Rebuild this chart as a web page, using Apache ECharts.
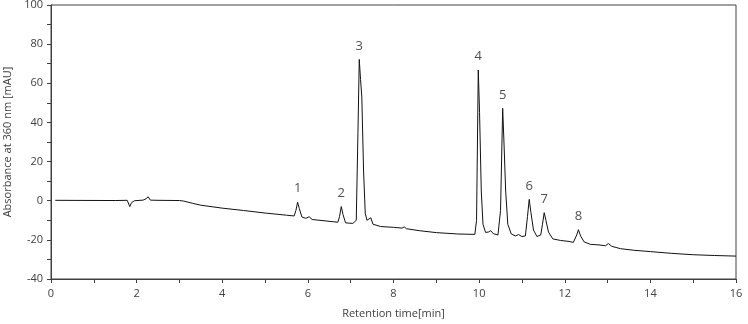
<!DOCTYPE html>
<html>
<head>
<meta charset="utf-8">
<script src="https://cdn.jsdelivr.net/npm/echarts@6/dist/echarts.min.js"></script>
<style>
  html, body { margin: 0; padding: 0; background: #fff; }
  #chart { width: 748px; height: 324px; }
</style>
</head>
<body>
<div id="chart"></div>
<script>
// chromatogram trace
const retentionTime = [
  0.1, 1.5, 1.78, 1.8, 1.84, 1.88, 1.95, 2.15, 2.22, 2.27, 2.32, 2.5, 3.0, 3.1, 3.3, 3.5,
  4.0, 4.5, 5.0, 5.5, 5.68, 5.72, 5.76, 5.8, 5.86, 5.95, 6.03, 6.1, 6.4, 6.7, 6.74, 6.78,
  6.82, 6.88, 7.05, 7.13, 7.17, 7.2, 7.23, 7.26, 7.3, 7.34, 7.38, 7.42, 7.47, 7.52, 7.7, 8.0,
  8.2, 8.25, 8.3, 8.6, 9.0, 9.5, 9.9, 9.94, 9.98, 10.01, 10.05, 10.09, 10.15, 10.22, 10.27, 10.33,
  10.44, 10.5, 10.55, 10.58, 10.62, 10.67, 10.75, 10.85, 10.92, 11.0, 11.08, 11.13, 11.17, 11.21, 11.27, 11.35,
  11.44, 11.48, 11.52, 11.56, 11.62, 11.72, 11.9, 12.1, 12.2, 12.28, 12.32, 12.37, 12.45, 12.6, 12.8, 12.95,
  13.02, 13.1, 13.3, 13.6, 14.0, 14.5, 15.0, 15.5, 16.0
]
const absorbance = [
  0.2, 0.1, 0.2, -0.3, -3.0, -1.0, 0.0, 0.3, 1.0, 2.0, 0.3, 0.2, 0.1, -0.2, -1.3, -2.3,
  -3.8, -5.0, -6.3, -7.4, -7.8, -5.0, -0.8, -4.0, -8.3, -9.0, -8.2, -9.6, -10.3, -11.0, -8.0, -3.0,
  -7.0, -11.3, -11.6, -10.0, 35, 72.2, 62, 53, 15.7, -6.4, -10.0, -10.2, -8.7, -12.0, -13.2, -13.6,
  -14.0, -13.4, -14.3, -15.3, -16.3, -17.0, -17.2, -10.0, 66.8, 45, 5, -12, -16.2, -16.0, -15.3, -16.8,
  -17.5, -5.0, 47.2, 30, 5, -12, -17.0, -18.0, -17.3, -18.3, -18.0, -8.0, 0.7, -6.0, -15.0, -18.3,
  -17.5, -12.0, -6.1, -10.0, -16.0, -19.5, -20.3, -20.8, -21.3, -17.5, -14.8, -18.0, -21.0, -22.3, -22.6, -23.0,
  -21.9, -23.3, -24.5, -25.3, -26.0, -26.9, -27.6, -28.0, -28.3
]

// peak numbers and where they sit
const peakNames = ['1', '2', '3', '4', '5', '6', '7', '8']
const peakTime = [5.76, 6.78, 7.2, 9.98, 10.55, 11.17, 11.52, 12.32]
const peakTop = [-0.8, -3.0, 72.2, 66.8, 47.2, 0.7, -6.1, -14.8]

const xTicks = { min: 0, max: 16, interval: 2 }
const yTicks = { min: -40, max: 100, interval: 20 }

const textColor = '#404040'
const fontFamily = 'Open Sans, sans-serif'

const chart = echarts.init(document.getElementById('chart'))

const trace = retentionTime.map((t, i) => [t, absorbance[i]])
const peaks = peakTime.map((t, i) => ({ name: peakNames[i], value: [t, peakTop[i]] }))

chart.setOption({
  animation: false,
  grid: {
    left: 51,
    right: 12,
    top: 5,
    bottom: 45,
    outerBoundsMode: 'none',
    containLabel: false,
    show: true,
    borderColor: '#404040',
    borderWidth: 1
  },
  xAxis: {
    type: 'value',
    min: xTicks.min,
    max: xTicks.max,
    interval: xTicks.interval,
    name: 'Retention time[min]',
    nameLocation: 'middle',
    nameGap: 29,
    nameTextStyle: { color: textColor, fontSize: 11, fontFamily: fontFamily },
    axisLine: { show: true, onZero: false, lineStyle: { color: '#404040', width: 1 } },
    axisTick: { show: true, length: 4, lineStyle: { color: '#404040' } },
    minorTick: { show: true, splitNumber: 2, length: 4, lineStyle: { color: '#404040' } },
    axisLabel: { color: textColor, fontSize: 11, fontFamily: fontFamily, margin: 9 },
    splitLine: { show: false }
  },
  yAxis: {
    type: 'value',
    min: yTicks.min,
    max: yTicks.max,
    interval: yTicks.interval,
    name: 'Absorbance at 360 nm [mAU]',
    nameLocation: 'middle',
    nameRotate: 90,
    nameGap: 38,
    nameTextStyle: { color: textColor, fontSize: 11, fontFamily: fontFamily },
    axisLine: { show: true, onZero: false, lineStyle: { color: '#404040', width: 1 } },
    axisTick: { show: true, length: 4, lineStyle: { color: '#404040' } },
    minorTick: { show: true, splitNumber: 2, length: 4, lineStyle: { color: '#404040' } },
    axisLabel: { color: textColor, fontSize: 11, fontFamily: fontFamily, margin: 8 },
    splitLine: { show: false }
  },
  series: [
    {
      type: 'line',
      data: trace,
      showSymbol: false,
      lineStyle: { color: '#111', width: 1 },
      z: 3
    },
    {
      type: 'scatter',
      data: peaks,
      symbolSize: 0,
      label: {
        show: true,
        position: 'top',
        distance: 7,
        formatter: '{b}',
        color: '#222',
        fontSize: 13,
        fontFamily: fontFamily
      },
      z: 4
    }
  ]
})
</script>
</body>
</html>
